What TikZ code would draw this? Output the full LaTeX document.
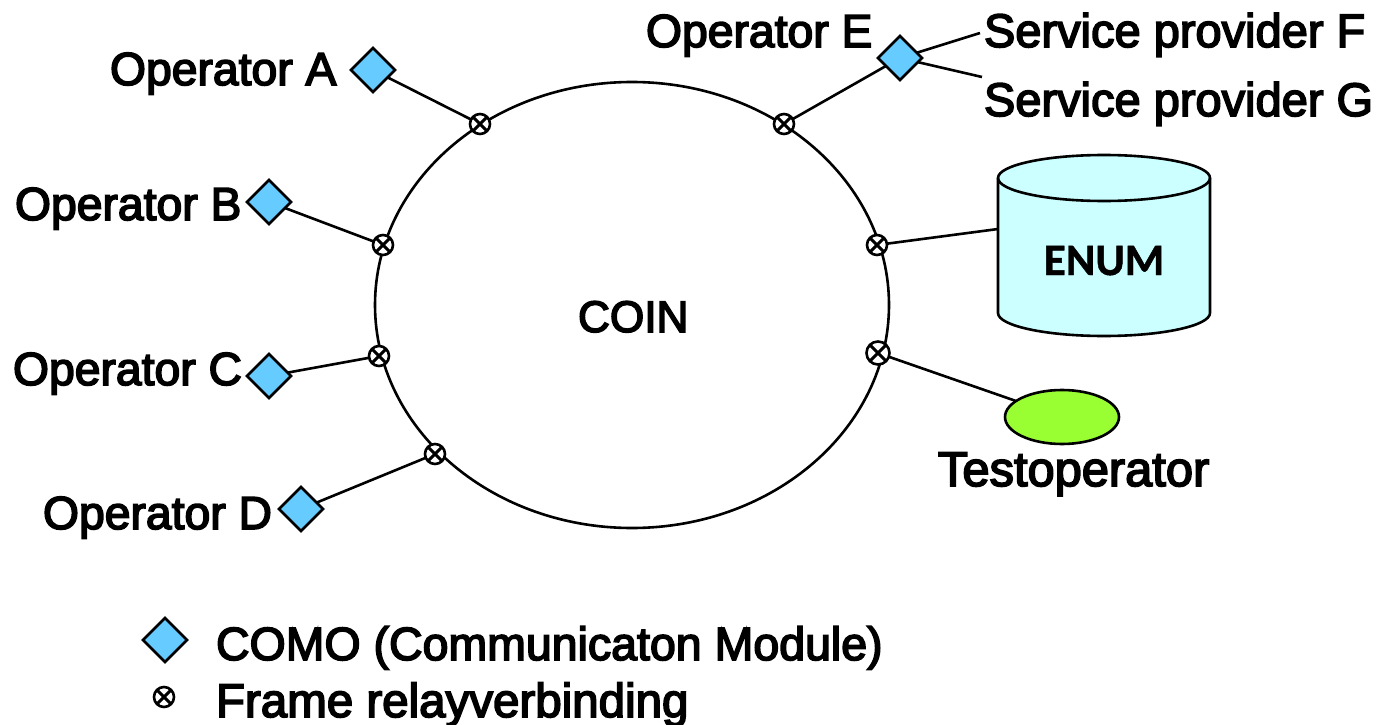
\documentclass[tikz,border=0pt]{standalone}
\usepackage{fontspec}
\setmainfont[FakeBold=3.5]{Liberation Sans}
\newfontfamily\enumfont[BoldFeatures={FakeBold=1}]{Carlito}
\usetikzlibrary{shapes.geometric}
\definecolor{como}{HTML}{66CCFF}
\definecolor{testgreen}{HTML}{99FF33}
\definecolor{enumcyan}{HTML}{CCFFFF}
\tikzset{
  every node/.style={inner sep=0pt,outer sep=0pt},
  lbl/.style={anchor=base west,font=\fontsize{#1}{52}\selectfont},
  lbl/.default=46.3,
  comobox/.style={diamond,draw=black,fill=como,line width=2.6pt,minimum width=44pt,minimum height=44pt},
  relay/.style={circle,draw=black,fill=white,line width=2.6pt,minimum size=20pt,
    path picture={\draw[line width=3pt]
      (path picture bounding box.north west)--(path picture bounding box.south east)
      (path picture bounding box.north east)--(path picture bounding box.south west);}},
  wire/.style={line width=2.6pt,draw=black}
}
\begin{document}
\begin{tikzpicture}[x=1pt,y=-1pt]
\useasboundingbox (0,0) rectangle (1385,725);
% ring
\draw[wire] (632,305) ellipse [x radius=257,y radius=223];
% relay points
\node[relay] (ra) at (480,124) {};
\node[relay] (re) at (784,124) {};
\node[relay] (rb) at (383,245) {};
\node[relay] (rn) at (877,245) {};
\node[relay] (rc) at (379,356) {};
\node[relay,minimum size=23pt] (rt) at (878,353) {};
\node[relay] (rd) at (435,454) {};
% COMO diamonds
\node[comobox] (da) at (373,70) {};
\node[comobox] (db) at (269,202) {};
\node[comobox] (dc) at (269,376) {};
\node[comobox] (dd) at (301,509) {};
\node[comobox] (de) at (900,58) {};
\node[comobox] (dl) at (165,640) {};
\node[relay] (rl) at (164,697) {};
% ENUM cylinder
\draw[line width=2.6pt,fill=enumcyan] (998,178)
  arc [start angle=180,end angle=360,x radius=106,y radius=23]
  -- (1210,313) arc [start angle=0,end angle=180,x radius=106,y radius=23] -- cycle;
\draw[line width=2.6pt] (998,178) arc [start angle=180,end angle=0,x radius=106,y radius=23];
\coordinate (enumside) at (998,229);
\node[anchor=base,font=\enumfont\bfseries\fontsize{45}{50}\selectfont] (enum) at (1104,275) {ENUM};
% test operator
\node[ellipse,draw=black,fill=testgreen,line width=2.6pt,minimum width=114pt,minimum height=54pt] (top) at (1062,417) {};
% free ends
\coordinate (ef) at (980,33);
\coordinate (eg) at (982,77);
% connectors
\draw[wire] (da) -- (ra);
\draw[wire] (db) -- (rb);
\draw[wire] (dc) -- (rc);
\draw[wire] (dd) -- (rd);
\draw[wire] (de) -- (re);
\draw[wire] (de) -- (ef);
\draw[wire] (de) -- (eg);
\draw[wire] (rn) -- (enumside);
\draw[wire] (rt) -- (top);
% labels
\node[lbl] (la) at (110,85) {Operator A};
\node[lbl] (lb) at (15,220) {Operator B};
\node[lbl] (lc) at (13,385) {Operator C};
\node[lbl] (ld) at (43,529) {Operator D};
\node[lbl] (le) at (646,47) {Operator E};
\node[lbl=47] (lf) at (984,47) {Service provider F};
\node[lbl=47] (lg) at (984,116) {Service provider G};
\node[lbl=44.2] (coin) at (578,332) {COIN};
\node[lbl=48.8] (lt) at (938,486) {Testoperator};
\node[lbl=46.5] (l1) at (216,660) {COMO (Communicaton Module)};
\node[lbl=47.5] (l2) at (216,717) {Frame relayverbinding};
\end{tikzpicture}
\end{document}
